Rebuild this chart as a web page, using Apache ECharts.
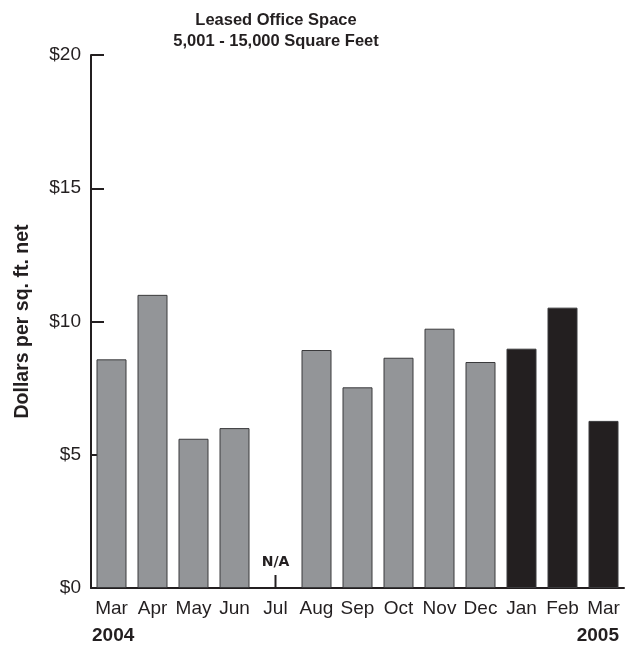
<!DOCTYPE html>
<html><head><meta charset="utf-8">
<script src="https://cdn.jsdelivr.net/npm/echarts@6/dist/echarts.min.js"></script>
<style>html,body{margin:0;padding:0;background:#fff}#c{width:632px;height:646px}</style>
</head><body><div id="c"></div>
<script>
const months = ['Mar','Apr','May','Jun','Jul','Aug','Sep','Oct','Nov','Dec','Jan','Feb','Mar'];
const years  = ['2004','2004','2004','2004','2004','2004','2004','2004','2004','2004','2005','2005','2005'];
const values = [8.58, 11.0, 5.6, 6.0, null, 8.93, 7.53, 8.64, 9.73, 8.48, 8.98, 10.52, 6.27];
const yTicks = [0, 5, 10, 15, 20];
const titleLines = ['Leased Office Space', '5,001 - 15,000 Square Feet'];
const yName = 'Dollars per sq. ft. net';

const FONT = '"Liberation Sans Narrow", "Arial Narrow", "Liberation Sans", Arial, sans-serif';
const DARK = '#231f20';
const GRAY = '#939598';

const cats = months.map((m, i) => i + '');
const naData = values.map((v, i) => v === null ? [i + '', 0] : null).filter(d => d);

const chart = echarts.init(document.getElementById('c'));
chart.setOption({
  animation: false,
  grid: { left: 91, right: 8, top: 55, bottom: 58, outerBoundsMode: 'none', containLabel: false },
  xAxis: {
    type: 'category', data: cats,
    axisLine: { lineStyle: { color: DARK, width: 2 } },
    axisTick: { show: false },
    axisLabel: { formatter: (v) => months[+v], fontFamily: FONT, fontSize: 19, color: DARK, margin: 11, interval: 0 }
  },
  yAxis: {
    type: 'value', min: yTicks[0], max: yTicks[yTicks.length - 1], interval: 5,
    name: yName, nameLocation: 'middle', nameGap: 58, nameRotate: 90,
    nameTextStyle: { fontFamily: FONT, fontWeight: 'bold', fontSize: 19.5, color: DARK },
    axisLine: { show: true, lineStyle: { color: DARK, width: 2 } },
    axisTick: { show: true, inside: true, length: 13, lineStyle: { color: DARK, width: 2 } },
    splitLine: { show: false },
    axisLabel: { formatter: '${value}', fontFamily: FONT, fontSize: 19, color: DARK, margin: 10 }
  },
  series: [
    {
      type: 'bar', data: values, barWidth: 30,
      itemStyle: {
        color: (p) => years[p.dataIndex] === '2005' ? DARK : GRAY,
        borderColor: '#3a3a3c', borderWidth: 1
      }
    },
    {
      type: 'scatter', data: naData, symbol: 'rect', symbolSize: [2, 13], symbolOffset: [0, -6.5],
      itemStyle: { color: DARK, opacity: 1 },
      label: { show: true, position: 'top', distance: 6, formatter: 'N/A', opacity: 1,
        fontFamily: '"DejaVu Sans", sans-serif', fontWeight: 'bold', fontSize: 14, color: DARK }
    }
  ],
  graphic: [
    { type: 'text', x: 276, y: 12, style: { text: titleLines[0], font: 'bold 16.5px ' + FONT, fill: DARK, align: 'center', verticalAlign: 'top' } },
    { type: 'text', x: 276, y: 33, style: { text: titleLines[1], font: 'bold 16.5px ' + FONT, fill: DARK, align: 'center', verticalAlign: 'top' } },
    { type: 'text', left: 92, top: 626, style: { text: years[0], font: 'bold 19px ' + FONT, fill: DARK } },
    { type: 'text', right: 13, top: 626, style: { text: years[years.length - 1], font: 'bold 19px ' + FONT, fill: DARK, textAlign: 'right' } }
  ]
});
</script></body></html>
